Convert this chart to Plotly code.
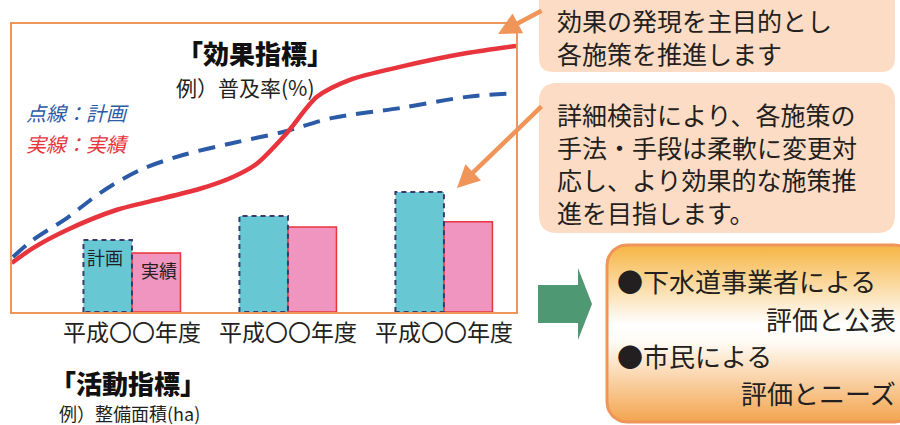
import numpy as np
import plotly.graph_objects as go

# ---------------- data ----------------
period_idx = [1, 2, 3]
period_labels = ["平成〇〇年度", "平成〇〇年度", "平成〇〇年度"]
activity_plan = [25.0, 33.3, 41.7]      # 活動指標 計画
activity_actual = [20.5, 29.5, 31.3]    # 活動指標 実績

effect_plan_t = [0.237, 0.365, 0.583, 0.795, 1.051, 1.327, 1.647, 1.968, 2.288, 2.718, 3.147, 3.462]
effect_plan = [19.1, 25.0, 32.6, 41.3, 49.3, 54.5, 58.7, 62.5, 67.4, 70.8, 74.7, 76.0]

effect_actual_t = [0.229, 0.365, 0.583, 0.904, 1.115, 1.436, 1.647, 1.800, 1.994, 2.186, 2.397, 2.718, 3.147, 3.462]
effect_actual = [17.0, 22.2, 28.5, 35.5, 38.4, 42.8, 46.9, 51.5, 62.2, 74.7, 80.6, 85.1, 89.9, 92.4]

BAR_W = 0.311

FONT = "Noto Sans CJK JP"
TXT = "#231f20"
RED = "#e8343c"
BLUE = "#2b5aa6"
CYAN = "#67c8d4"
PINK = "#f095bf"
ORANGE = "#f0955a"
PEACH = "#fcdcc4"
GREEN = "#4e9873"
NAVY = "#3b3a6e"

W, H = 900, 425

fig = go.Figure()

# bars
fig.add_trace(go.Bar(x=period_idx, y=activity_plan, offset=-BAR_W, width=BAR_W,
                     marker=dict(color=CYAN, line=dict(width=0)), xaxis="x", yaxis="y"))
fig.add_trace(go.Bar(x=period_idx, y=activity_actual, offset=0, width=BAR_W,
                     marker=dict(color=PINK, line=dict(color=RED, width=1.5)), xaxis="x", yaxis="y"))
# dashed outlines of plan bars
for xi, v in zip(period_idx, activity_plan):
    fig.add_trace(go.Scatter(x=[xi - BAR_W, xi - BAR_W, xi, xi, xi - BAR_W], y=[0, v, v, 0, 0],
                             mode="lines", line=dict(color=NAVY, width=2, dash="5px,4px"),
                             cliponaxis=False, xaxis="x", yaxis="y"))

# lines
fig.add_trace(go.Scatter(x=effect_plan_t, y=effect_plan, mode="lines",
                         line=dict(color=BLUE, width=4, dash="17px,10px", shape="spline", smoothing=0.9),
                         xaxis="x", yaxis="y"))
fig.add_trace(go.Scatter(x=effect_actual_t, y=effect_actual, mode="lines",
                         line=dict(color=RED, width=4.5, shape="spline", smoothing=0.8),
                         xaxis="x", yaxis="y"))

# ---------------- decorations (pixel overlay axes) ----------------
def rrect_path(x0, y0, x1, y1, r):
    return (f"M{x0+r},{y0} L{x1-r},{y0} Q{x1},{y0} {x1},{y0+r} L{x1},{y1-r} Q{x1},{y1} {x1-r},{y1} "
            f"L{x0+r},{y1} Q{x0},{y1} {x0},{y1-r} L{x0},{y0+r} Q{x0},{y0} {x0+r},{y0} Z")

def rrect_pts(x0, y0, x1, y1, r, n=12):
    xs, ys = [], []
    corners = [(x1 - r, y0 + r, -np.pi / 2, 0), (x1 - r, y1 - r, 0, np.pi / 2),
               (x0 + r, y1 - r, np.pi / 2, np.pi), (x0 + r, y0 + r, np.pi, 1.5 * np.pi)]
    for cx, cy, a0, a1 in corners:
        a = np.linspace(a0, a1, n)
        xs += list(cx + r * np.cos(a))
        ys += list(cy + r * np.sin(a))
    xs.append(xs[0]); ys.append(ys[0])
    return xs, ys

bx, by = rrect_pts(607, 245, 915, 422, 20)
fig.add_trace(go.Scatter(x=bx, y=by, mode="lines", fill="toself",
                         line=dict(color=ORANGE, width=3),
                         fillgradient=dict(type="vertical", start=245, stop=422,
                                           colorscale=[[0, "#f6b443"], [0.45, "#ffffff"],
                                                       [0.55, "#fffbf5"], [1, "#f3a44e"]]),
                         xaxis="x2", yaxis="y2"))

shapes = [
    dict(type="path", path=rrect_path(539, -20, 895, 72, 14), xref="x2", yref="y2",
         fillcolor=PEACH, line=dict(width=0), layer="below"),
    dict(type="path", path=rrect_path(539, 83, 895, 233, 18), xref="x2", yref="y2",
         fillcolor=PEACH, line=dict(width=0), layer="below"),
    dict(type="path", path="M538,285 L578,285 L578,268 L592,304 L578,340 L578,323 L538,323 Z",
         xref="x2", yref="y2", fillcolor=GREEN, line=dict(width=0)),
]

def ann(x, y, text, size, color=TXT, xanchor="center", weight="normal", style="normal", align="left"):
    return dict(x=x, y=y, xref="x2", yref="y2", text=text, showarrow=False,
                xanchor=xanchor, yanchor="middle", align=align, borderpad=0,
                font=dict(family=FONT, size=size, color=color, weight=weight, style=style))

annotations = [
    ann(255, 52, "「効果指標」", 26, color="#111111", weight=900),
    ann(245, 87, "例）普及率(%)", 21),
    ann(25, 112, "点線：計画", 20, color=BLUE, xanchor="left", style="italic"),
    ann(25, 143, "実線：実績", 20, color=RED, xanchor="left", style="italic"),
    ann(105, 257, "計画", 18),
    ann(159, 270, "実績", 18),
    ann(128, 382, "「活動指標」", 26, color="#111111", weight=900),
    ann(129, 413, "例）整備面積(ha)", 18),
    ann(556, 36, "効果の発現を主目的とし<br>各施策を推進します", 25, xanchor="left"),
    ann(556, 163, "詳細検討により、各施策の<br>手法・手段は柔軟に変更対<br>応し、より効果的な施策推<br>進を目指します。",
        25, xanchor="left"),
    ann(616, 280, "●下水道事業者による", 26, xanchor="left"),
    ann(897, 318, "評価と公表", 26, xanchor="right"),
    ann(616, 355, "●市民による", 26, xanchor="left"),
    ann(897, 392, "評価とニーズ", 26, xanchor="right"),
    # orange arrows
    dict(x=498, y=34, xref="x2", yref="y2", ax=543, ay=10, axref="x2", ayref="y2",
         text="", showarrow=True, arrowhead=2, arrowsize=1, arrowwidth=4.5, arrowcolor=ORANGE),
    dict(x=457, y=188, xref="x2", yref="y2", ax=543, ay=105, axref="x2", ayref="y2",
         text="", showarrow=True, arrowhead=2, arrowsize=1, arrowwidth=4.5, arrowcolor=ORANGE),
]

fig.update_layout(
    width=W, height=H, margin=dict(l=0, r=0, t=0, b=0),
    paper_bgcolor="white", plot_bgcolor="rgba(0,0,0,0)",
    showlegend=False, hovermode=False, barmode="overlay",
    font=dict(family=FONT, color=TXT),
    xaxis=dict(domain=[11.7 / W, 516 / W], range=[0.229, 3.462], showgrid=False, zeroline=False,
               showline=True, mirror=True, linecolor=ORANGE, linewidth=1.5,
               tickmode="array", tickvals=period_idx, ticktext=period_labels, ticks="",
               tickfont=dict(family=FONT, size=23, color=TXT), ticklabelstandoff=0,
               fixedrange=True, anchor="y"),
    yaxis=dict(domain=[1 - 312 / H, 1 - 24 / H], range=[0, 100], showgrid=False, zeroline=False,
               showline=True, mirror=True, linecolor=ORANGE, linewidth=1.5,
               showticklabels=False, ticks="", fixedrange=True, anchor="x"),
    xaxis2=dict(domain=[0, 1], range=[0, W], visible=False, fixedrange=True, anchor="y2"),
    yaxis2=dict(domain=[0, 1], range=[H, 0], visible=False, fixedrange=True, anchor="x2"),
    shapes=shapes, annotations=annotations,
)

fig.write_html("out.html")
